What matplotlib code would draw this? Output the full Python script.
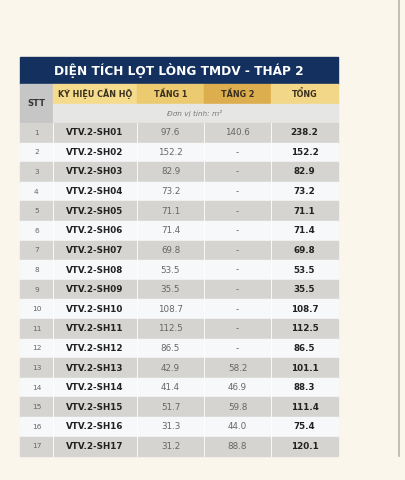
import numpy as np
import matplotlib.pyplot as plt
from matplotlib.patches import Rectangle

# Dữ liệu bảng
stt = list(range(1, 18))
ky_hieu = ["VTV.2-SH%02d" % i for i in range(1, 18)]
tang1 = ["97.6", "152.2", "82.9", "73.2", "71.1", "71.4", "69.8", "53.5", "35.5",
         "108.7", "112.5", "86.5", "42.9", "41.4", "51.7", "31.3", "31.2"]
tang2 = ["140.6", "-", "-", "-", "-", "-", "-", "-", "-",
         "-", "-", "-", "58.2", "46.9", "59.8", "44.0", "88.8"]
tong = ["238.2", "152.2", "82.9", "73.2", "71.1", "71.4", "69.8", "53.5", "35.5",
        "108.7", "112.5", "86.5", "101.1", "88.3", "111.4", "75.4", "120.1"]

title = "DIỆN TÍCH LỌT LÒNG TMDV - THÁP 2"
headers = ["KÝ HIỆU CĂN HỘ", "TẦNG 1", "TẦNG 2", "TỔNG"]

fig = plt.figure(figsize=(4.05, 4.8), dpi=100)
fig.patch.set_facecolor("#fbf6ec")
ax = fig.add_axes([0, 0, 1, 1])
ax.set_xlim(0, 405)
ax.set_ylim(480, 0)
ax.axis("off")

cols = [20, 53, 137, 204, 271, 338]
y_title, y_head, y_unit, y_data = 57, 84, 104, 123
rh = 19.6

# vệt dọc bên phải
ax.plot([399, 399], [0, 456], color="#b8b4ad", lw=1.2)

ax.add_patch(Rectangle((20, y_title), 318, y_head - y_title, color="#13305e"))
ax.text(179, (y_title + y_head) / 2 + 0.5, title, color="white", fontsize=8.7,
        fontweight="bold", ha="center", va="center")

ax.add_patch(Rectangle((20, y_head), 33, y_data - y_head, color="#c6c6c6"))
ax.text(36.5, (y_head + y_data) / 2, "STT", fontsize=6, fontweight="bold",
        color="#333333", ha="center", va="center")

gold = ["#f4dc8c", "#ecca70", "#dcae4e", "#f1d787"]
for i, h in enumerate(headers):
    x0, x1 = cols[i + 1], cols[i + 2]
    ax.add_patch(Rectangle((x0, y_head), x1 - x0, y_unit - y_head, color=gold[i]))
    ax.text((x0 + x1) / 2, (y_head + y_unit) / 2, h, fontsize=5.8, fontweight="bold",
            color="#3a3020", ha="center", va="center")

ax.add_patch(Rectangle((53, y_unit), 285, y_data - y_unit, color="#e6e6e4"))
ax.text(195, (y_unit + y_data) / 2, "Đơn vị tính: m²", fontsize=5.3, style="italic",
        color="#777777", ha="center", va="center")

for r in range(len(stt)):
    y0 = y_data + r * rh
    ax.add_patch(Rectangle((20, y0), 318, rh,
                           color="#d5d4d0" if r % 2 == 0 else "#f7f8fa"))
    yc = y0 + rh / 2
    vals = [str(stt[r]), ky_hieu[r], tang1[r], tang2[r], tong[r]]
    for c, v in enumerate(vals):
        xc = (cols[c] + cols[c + 1]) / 2
        bold = c in (1, 4)
        ax.text(xc, yc, v, fontsize=6.3 if c else 5.3,
                fontweight="bold" if bold else "normal",
                color="#222222" if bold else "#666666", ha="center", va="center")
    for x in cols[1:-1]:
        ax.plot([x, x], [y0, y0 + rh], color="white", lw=0.6)

fig.savefig("out.png", dpi=100, facecolor=fig.get_facecolor())
